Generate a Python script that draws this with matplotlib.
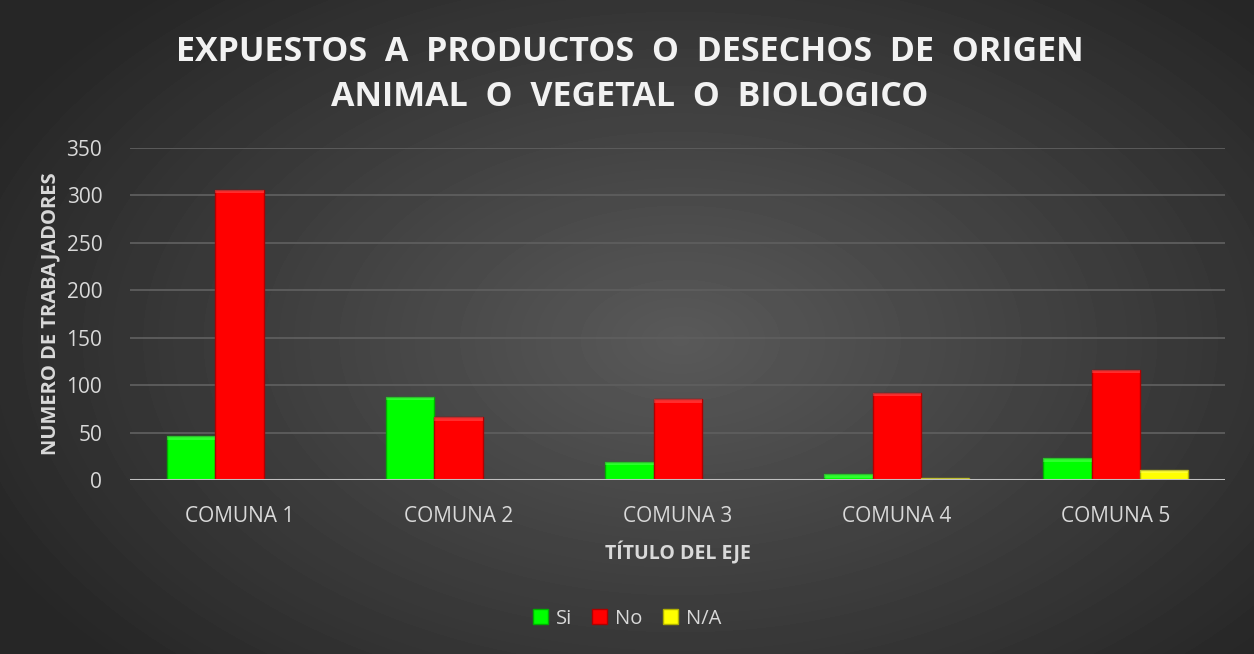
import numpy as np
import matplotlib.pyplot as plt
from matplotlib.patches import Rectangle

plt.rcParams['font.family'] = ['Open Sans', 'DejaVu Sans']

comunas = ['COMUNA 1', 'COMUNA 2', 'COMUNA 3', 'COMUNA 4', 'COMUNA 5']
si = [46, 88, 19, 6, 23]
no = [306, 66, 85, 92, 116]
na = [0, 0, 0, 2, 11]

series = [('Si', si, '#00ff00', '#00b000'),
          ('No', no, '#ff0000', '#b00000'),
          ('N/A', na, '#ffff00', '#b0b000')]

fig = plt.figure(figsize=(12.54, 6.54), dpi=100)

# radial dark background
bg = fig.add_axes([0, 0, 1, 1], zorder=-10)
yy, xx = np.mgrid[0:654, 0:1254]
r = np.sqrt(((xx - 680) / 850.0) ** 2 + ((yy - 340) / 520.0) ** 2)
shade = np.clip(0.35 - 0.22 * r, 0.15, 0.35)
bg.imshow(shade, cmap='gray', vmin=0, vmax=1, aspect='auto', extent=[0, 1, 0, 1])
bg.set_axis_off()

ax = fig.add_axes([0.1037, 0.266, 0.8733, 0.5077])
ax.patch.set_alpha(0)

x = np.arange(len(comunas))
w = 0.22
for i, (name, vals, fc, ec) in enumerate(series):
    pos = x + (i - 1) * w
    ax.bar(pos, vals, width=w, color=fc, edgecolor=ec, linewidth=1, label=name, zorder=3)
    # lighter bevel strip on top of each bar
    for p, v in zip(pos, vals):
        if v > 0:
            h = min(v, 3.5)
            ax.add_patch(Rectangle((p - w / 2, v - h), w, h, color='white', alpha=0.18,
                                   lw=0, zorder=4))

ax.set_xlim(-0.5, 4.5)
ax.set_ylim(0, 350)
ax.set_yticks(range(0, 351, 50))
ax.set_xticks(x)
ax.set_xticklabels(comunas)
ax.grid(axis='y', color='#5e5e5e', linewidth=1.3, zorder=0)
ax.axhline(0, color='#c0c0c0', linewidth=2.2, zorder=5)
for s in ax.spines.values():
    s.set_visible(False)
ax.tick_params(length=0, colors='#d9d9d9', labelsize=15)
ax.tick_params(axis='x', pad=19)
ax.tick_params(axis='y', pad=20)

ax.set_ylabel('NUMERO DE TRABAJADORES', color='#d9d9d9', fontsize=14.5, fontweight='bold', labelpad=4)
ax.set_xlabel('TÍTULO DEL EJE', color='#d9d9d9', fontsize=14, fontweight='bold', labelpad=10)

fig.text(0.502, 0.886, 'EXPUESTOS  A  PRODUCTOS  O  DESECHOS  DE  ORIGEN\nANIMAL  O  VEGETAL  O  BIOLOGICO',
         ha='center', va='center', color='#f2f2f2', fontsize=24.5, fontweight='bold',
         linespacing=1.4)

leg = fig.legend(loc='center', bbox_to_anchor=(0.5, 0.054), ncol=3, frameon=False,
                 fontsize=14.5, handlelength=0.75, handleheight=0.75, handletextpad=0.4,
                 columnspacing=1.0)
for t in leg.get_texts():
    t.set_color('#d9d9d9')

fig.savefig('out.png', dpi=100)
